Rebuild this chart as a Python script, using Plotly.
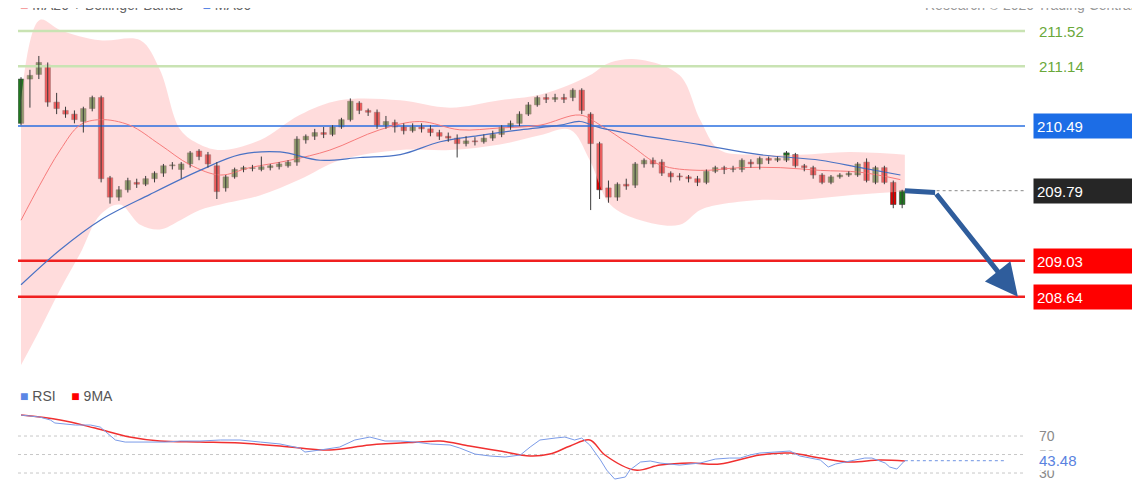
import plotly.graph_objects as go
from plotly.subplots import make_subplots

# candles (bar index 0..99)
opens = [210.52, 211.00, 211.05, 211.15, 210.75, 210.66, 210.62, 210.54, 210.68, 210.80,
         209.93, 209.72, 209.80, 209.88, 209.86, 209.92, 209.98, 210.06, 210.02, 210.08,
         210.22, 210.18, 210.06, 209.82, 209.94, 210.02, 210.03, 210.02, 210.04, 210.05,
         210.06, 210.10, 210.34, 210.38, 210.42, 210.40, 210.48, 210.56, 210.74, 210.66,
         210.64, 210.50, 210.53, 210.48, 210.44, 210.48, 210.46, 210.42, 210.38, 210.36,
         210.30, 210.33, 210.32, 210.36, 210.40, 210.48, 210.52, 210.62, 210.72, 210.80,
         210.78, 210.80, 210.80, 210.88, 210.62, 210.30, 209.82, 209.72, 209.86, 209.85,
         210.08, 210.12, 210.10, 209.98, 209.95, 209.94, 209.92, 209.88, 210.00, 210.04,
         210.02, 210.02, 210.10, 210.08, 210.14, 210.12, 210.12, 210.18, 210.06, 210.04,
         209.96, 209.88, 209.94, 209.96, 209.96, 210.10, 209.88, 210.04, 209.88, 209.64]
highs = [211.02, 211.10, 211.25, 211.18, 210.85, 210.70, 210.66, 210.70, 210.82, 210.82,
         209.95, 209.84, 209.93, 209.92, 209.95, 210.00, 210.08, 210.10, 210.10, 210.22,
         210.24, 210.21, 210.10, 209.96, 210.04, 210.06, 210.07, 210.16, 210.08, 210.10,
         210.12, 210.38, 210.40, 210.46, 210.48, 210.50, 210.58, 210.79, 210.76, 210.68,
         210.67, 210.60, 210.56, 210.52, 210.52, 210.52, 210.50, 210.45, 210.42, 210.40,
         210.38, 210.37, 210.40, 210.44, 210.50, 210.55, 210.65, 210.75, 210.82, 210.84,
         210.84, 210.84, 210.90, 210.90, 210.64, 210.32, 209.90, 209.88, 209.92, 210.10,
         210.14, 210.15, 210.13, 210.00, 209.98, 209.96, 209.95, 210.02, 210.06, 210.06,
         210.06, 210.14, 210.13, 210.16, 210.16, 210.16, 210.22, 210.20, 210.08, 210.06,
         209.98, 209.96, 209.98, 210.00, 210.10, 210.14, 210.06, 210.06, 209.90, 209.80]
lows = [210.50, 210.69, 211.00, 210.70, 210.62, 210.58, 210.52, 210.42, 210.65, 209.88,
        209.65, 209.68, 209.77, 209.82, 209.84, 209.88, 209.94, 210.02, 209.92, 210.04,
        210.12, 210.04, 209.70, 209.78, 209.92, 209.99, 210.00, 210.00, 210.01, 210.02,
        210.04, 210.06, 210.30, 210.34, 210.36, 210.38, 210.46, 210.54, 210.62, 210.60,
        210.46, 210.46, 210.42, 210.40, 210.42, 210.42, 210.38, 210.34, 210.32, 210.15,
        210.27, 210.28, 210.30, 210.33, 210.37, 210.45, 210.49, 210.60, 210.70, 210.74,
        210.75, 210.74, 210.76, 210.62, 209.58, 209.70, 209.66, 209.68, 209.80, 209.82,
        210.04, 210.04, 209.95, 209.88, 209.90, 209.88, 209.84, 209.86, 209.98, 209.97,
        209.99, 209.99, 210.04, 210.02, 210.08, 210.10, 210.10, 210.04, 210.00, 209.92,
        209.86, 209.86, 209.92, 209.94, 209.94, 209.88, 209.86, 209.86, 209.60, 209.60]
closes = [211.00, 211.04, 211.18, 210.75, 210.68, 210.62, 210.56, 210.68, 210.80, 209.92,
          209.72, 209.80, 209.90, 209.86, 209.92, 209.98, 210.06, 210.07, 210.08, 210.20,
          210.16, 210.08, 209.78, 209.94, 210.02, 210.04, 210.04, 210.05, 210.06, 210.08,
          210.10, 210.35, 210.38, 210.42, 210.40, 210.48, 210.56, 210.76, 210.66, 210.64,
          210.50, 210.54, 210.48, 210.44, 210.48, 210.46, 210.42, 210.38, 210.36, 210.30,
          210.33, 210.32, 210.36, 210.40, 210.48, 210.52, 210.62, 210.72, 210.80, 210.78,
          210.80, 210.78, 210.88, 210.66, 210.30, 209.80, 209.72, 209.86, 209.84, 210.08,
          210.12, 210.08, 209.98, 209.94, 209.94, 209.92, 209.88, 210.00, 210.04, 210.02,
          210.03, 210.12, 210.08, 210.14, 210.12, 210.14, 210.20, 210.06, 210.04, 209.96,
          209.88, 209.94, 209.96, 209.98, 210.08, 209.90, 210.04, 209.88, 209.64, 209.79]
bar_x = list(range(len(closes)))

# Bollinger bands and moving averages (x in bar units)
upper_x = [0, 2.1, 4.4, 8.9, 13.4, 15.6, 17.9, 20.1, 22.4, 26.9, 31.3, 35.8, 42.6, 48.2,
           53.8, 58.3, 61.7, 63.9, 66.2, 69.6, 74.0, 76.3, 78.5, 83.0, 87.5, 93.1, 99.3]
upper = [210.77, 211.64, 211.53, 211.42, 211.42, 211.10, 210.45, 210.29, 210.23, 210.34,
         210.61, 210.77, 210.77, 210.69, 210.77, 210.83, 210.94, 211.04, 211.18, 211.21,
         211.04, 210.56, 210.23, 210.18, 210.18, 210.21, 210.18]
lower_x = [0, 2.1, 4.4, 6.6, 8.9, 11.1, 13.4, 15.6, 17.9, 20.1, 22.4, 26.9, 31.3, 35.8,
           42.6, 48.2, 53.8, 58.3, 61.7, 63.9, 66.2, 69.6, 74.0, 76.3, 78.5, 83.0, 87.5,
           93.1, 99.3]
lower = [207.90, 208.28, 208.72, 209.10, 209.53, 209.64, 209.42, 209.37, 209.47, 209.58,
         209.64, 209.74, 209.91, 210.12, 210.23, 210.23, 210.29, 210.39, 210.45, 210.12,
         209.64, 209.47, 209.42, 209.58, 209.64, 209.69, 209.69, 209.74, 209.78]
ma20_x = [0, 2.1, 4.4, 6.6, 8.9, 12.2, 15.6, 19.0, 22.4, 25.7, 30.2, 34.7, 40.3, 44.8,
          49.3, 53.8, 58.3, 62.8, 65.1, 68.4, 71.8, 76.3, 80.8, 85.3, 89.8, 94.3, 98.8]
ma20 = [209.47, 209.85, 210.23, 210.50, 210.56, 210.50, 210.29, 210.07, 209.96, 210.04,
        210.12, 210.23, 210.45, 210.54, 210.45, 210.47, 210.50, 210.61, 210.50, 210.29,
        210.07, 210.01, 210.04, 210.04, 210.01, 209.99, 209.91]
ma50_x = [0, 4.4, 8.9, 14.5, 20.1, 24.6, 29.1, 33.6, 38.1, 42.6, 47.1, 51.6, 56.1, 60.6,
          62.8, 65.1, 69.6, 76.3, 83.0, 89.8, 94.3, 98.8]
ma50 = [208.77, 209.15, 209.47, 209.75, 210.01, 210.18, 210.21, 210.12, 210.15, 210.18,
        210.32, 210.39, 210.45, 210.50, 210.54, 210.47, 210.39, 210.29, 210.18, 210.12,
        210.04, 209.96]

# RSI pane
rsi_x = [0, 2.1, 3.3, 3.8, 6.1, 7.8, 8.9, 10.6, 11.7, 12.8, 14.5, 16.2, 17.9, 20.1, 22.4,
         24.6, 26.9, 29.1, 31.3, 31.9, 33.6, 35.8, 37.5, 39.2, 40.9, 42.6, 44.3, 46.0, 48.2,
         49.3, 51.0, 52.7, 54.4, 56.1, 57.2, 58.3, 60.0, 61.1, 62.2, 63.0, 63.9, 65.1, 65.8,
         66.7, 67.9, 68.4, 69.6, 70.7, 71.8, 72.9, 74.0, 76.3, 78.0, 79.6, 80.8, 81.9, 83.0,
         84.7, 86.4, 87.5, 88.7, 89.8, 90.7, 91.5, 92.6, 93.7, 94.8, 95.6, 96.5, 97.1, 97.6,
         98.4, 99.3]
rsi = [92.7, 90.5, 87.3, 84.1, 81.9, 81.9, 79.7, 65.7, 63.5, 63.5, 63.5, 63.5, 64.6, 64.6,
       65.7, 65.7, 63.5, 61.4, 57.0, 52.7, 54.9, 58.1, 65.7, 68.9, 64.6, 64.6, 63.5, 61.4,
       60.3, 57.0, 50.5, 48.4, 47.3, 49.5, 58.1, 65.7, 67.8, 68.9, 65.7, 67.8, 60.3, 44.1,
       33.2, 23.5, 25.7, 33.2, 41.9, 43.0, 40.8, 39.7, 38.6, 40.8, 45.1, 46.2, 46.2, 49.5,
       51.6, 52.7, 53.8, 48.4, 46.2, 44.1, 36.5, 39.7, 41.9, 44.1, 46.2, 46.2, 43.0, 40.8,
       36.5, 34.3, 43.5]
ma9_x = [0, 4.4, 8.3, 12.2, 15.6, 20.1, 24.6, 29.1, 31.3, 34.7, 39.2, 44.8, 47.1, 50.4,
         53.8, 57.2, 59.4, 61.7, 63.9, 65.6, 69.0, 71.8, 75.2, 78.5, 83.0, 86.4, 89.8, 93.1,
         96.5, 99.3]
ma9 = [92.7, 87.3, 78.6, 68.9, 64.6, 63.5, 62.4, 59.2, 57.0, 54.9, 60.3, 63.5, 64.6, 59.2,
       53.8, 48.4, 50.5, 59.2, 65.7, 49.5, 33.2, 38.6, 40.8, 39.7, 49.5, 51.6, 46.2, 41.9,
       44.1, 43.0]
rsi_last = 43.48

levels_green = [211.52, 211.14]
level_blue = 210.49
levels_red = [209.03, 208.64]
last_price = 209.79
target_x = [99.3, 102.7]
target_y = [209.79, 209.77]
target_end = (112.0, 208.64)

X0, X1 = -0.34, 112.8
fig = make_subplots(rows=2, cols=1, shared_xaxes=True, vertical_spacing=0.07)

pink = 'rgba(255,185,185,0.5)'
fig.add_trace(go.Scatter(x=upper_x, y=upper, mode='lines', line=dict(width=0, shape='spline'),
                         hoverinfo='skip'), row=1, col=1)
fig.add_trace(go.Scatter(x=lower_x, y=lower, mode='lines', line=dict(width=0, shape='spline'),
                         fill='tonexty', fillcolor=pink, hoverinfo='skip'), row=1, col=1)

for lv in levels_green:
    fig.add_trace(go.Scatter(x=[X0, X1], y=[lv, lv], mode='lines',
                             line=dict(color='#c9e3b3', width=2.5)), row=1, col=1)
fig.add_trace(go.Scatter(x=[X0, X1], y=[level_blue, level_blue], mode='lines',
                         line=dict(color='#2a6fe0', width=1.5)), row=1, col=1)
for lv in levels_red:
    fig.add_trace(go.Scatter(x=[X0, X1], y=[lv, lv], mode='lines',
                             line=dict(color='#f02020', width=2.5)), row=1, col=1)
fig.add_trace(go.Scatter(x=[99.5, X1], y=[last_price, last_price], mode='lines',
                         line=dict(color='#888888', width=1, dash='dot')), row=1, col=1)

fig.add_trace(go.Scatter(x=ma20_x, y=ma20, mode='lines',
                         line=dict(color='#f77b7b', width=1, shape='spline')), row=1, col=1)
fig.add_trace(go.Scatter(x=ma50_x, y=ma50, mode='lines',
                         line=dict(color='#4a72c4', width=1.2, shape='spline')), row=1, col=1)

# candles: wicks as line segments, bodies as bars
wick_x, wick_y = [], []
for i in bar_x:
    wick_x += [i, i, None]
    wick_y += [lows[i], highs[i], None]
fig.add_trace(go.Scatter(x=wick_x, y=wick_y, mode='lines',
                         line=dict(color='#3a3a3a', width=1)), row=1, col=1)
body_base = [min(o, c) for o, c in zip(opens, closes)]
body_len = [max(abs(c - o), 0.008) for o, c in zip(opens, closes)]
body_col = ['#1f7a1f' if c >= o else '#e00000' for o, c in zip(opens, closes)]
fig.add_trace(go.Bar(x=bar_x, y=body_len, base=body_base, width=0.62,
                     marker=dict(color=body_col, line=dict(color='#333333', width=0.5))),
              row=1, col=1)

# forecast arrow
fig.add_trace(go.Scatter(x=target_x, y=target_y, mode='lines',
                         line=dict(color='#2f5d9c', width=5)), row=1, col=1)
fig.add_annotation(x=target_end[0], y=target_end[1], ax=target_x[1], ay=target_y[1],
                   xref='x', yref='y', axref='x', ayref='y', showarrow=True, text='',
                   arrowhead=2, arrowsize=1.3, arrowwidth=5, arrowcolor='#2f5d9c')

# price tags
def tag(y, text, color, row):
    yref = 'y' if row == 1 else 'y2'
    fig.add_annotation(x=1.0075, y=y, xref='paper', yref=yref, text=text, showarrow=False,
                       xanchor='left', yanchor='middle', width=92, height=18, align='left',
                       bgcolor=color, borderpad=3, font=dict(color='white', size=15))
    fig.add_trace(go.Scatter(x=[X1 + 0.75], y=[y], mode='markers', cliponaxis=False,
                             marker=dict(symbol='triangle-left', size=17, color=color)),
                  row=row, col=1)

tag(level_blue, '210.49', '#1c6de6', 1)
tag(last_price, '209.79', '#262626', 1)
for lv in levels_red:
    tag(lv, f'{lv:.2f}', '#ff0000', 1)
for lv in levels_green:
    fig.add_annotation(x=1.012, y=lv, xref='paper', yref='y', text=f'{lv:.2f}',
                       showarrow=False, xanchor='left', font=dict(color='#6aa83a', size=15))

# RSI pane
for lv in [70, 50, 30]:
    fig.add_trace(go.Scatter(x=[X0, X1], y=[lv, lv], mode='lines',
                             line=dict(color='#c8c8c8', width=1, dash='dot')), row=2, col=1)
    fig.add_annotation(x=1.012, y=lv, xref='paper', yref='y2', text=str(lv), showarrow=False,
                       xanchor='left', font=dict(color='#8a8a8a', size=14))
fig.add_trace(go.Scatter(x=[99.3, 110.5], y=[rsi_last, rsi_last], mode='lines',
                         line=dict(color='#8aa8e8', width=1.2, dash='dot')), row=2, col=1)
fig.add_annotation(x=1.012, y=rsi_last, xref='paper', yref='y2', text=f'{rsi_last:.2f}',
                   showarrow=False, xanchor='left', bgcolor='white',
                   font=dict(color='#5a82e0', size=15))
fig.add_trace(go.Scatter(x=ma9_x, y=ma9, mode='lines',
                         line=dict(color='#f03030', width=1.5, shape='spline')), row=2, col=1)
fig.add_trace(go.Scatter(x=rsi_x, y=rsi, mode='lines',
                         line=dict(color='#7b9be8', width=1)), row=2, col=1)

# legends
fig.add_annotation(x=0.0, y=0.225, xref='paper', yref='paper',
                   text='<span style="color:#5b86e5">■</span> RSI    <span style="color:#ff0000">■</span> 9MA',
                   showarrow=False, xanchor='left', yanchor='middle',
                   font=dict(color='#555555', size=14))
fig.add_annotation(x=0.0, y=1.006, xref='paper', yref='paper',
                   text='<span style="color:#f5a0a0">■</span> MA20 + Bollinger Bands     '
                        '<span style="color:#5b86e5">■</span> MA50',
                   showarrow=False, xanchor='left', yanchor='middle',
                   font=dict(color='#666666', size=14))
fig.add_annotation(x=1.11, y=1.006, xref='paper', yref='paper',
                   text='Research © 2020 Trading Central', showarrow=False,
                   xanchor='right', yanchor='middle', font=dict(color='#999999', size=14))

fig.update_xaxes(range=[X0, X1], visible=False)
fig.update_yaxes(visible=False, showgrid=False)
fig.update_yaxes(range=[207.76, 211.77], row=1, col=1)
fig.update_yaxes(range=[-7.8, 94.9], row=2, col=1)
fig.update_layout(width=1140, height=500, showlegend=False,
                  margin=dict(l=10, r=123, t=0, b=0),
                  plot_bgcolor='white', paper_bgcolor='white',
                  font=dict(family='Liberation Sans, Arial, sans-serif'))
fig.update_layout(yaxis=dict(domain=[0.26, 1.0]), yaxis2=dict(domain=[0.0, 0.19]))

fig.write_html('out.html')
